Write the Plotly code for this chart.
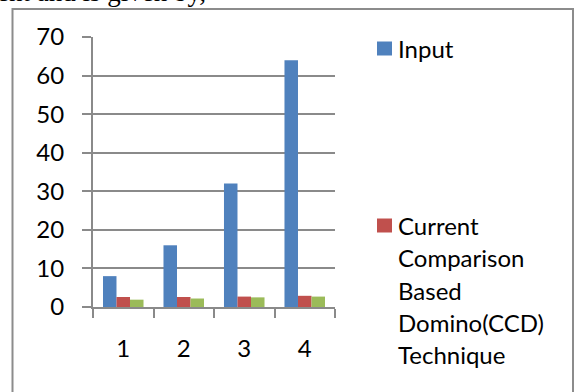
import plotly.graph_objects as go

# Chart data
categories = [1, 2, 3, 4]
tick_labels = ["1", "2", "3", "4"]
input_values = [8, 16, 32, 64]
ccd_values = [2.6, 2.6, 2.7, 2.9]
third_values = [1.9, 2.2, 2.5, 2.7]

series_names = [
    "Input",
    "Current<br>Comparison<br>Based<br>Domino(CCD)<br>Technique",
    "Series 3",
]
series_colors = ["#4F81BD", "#C0504D", "#9BBB59"]

W, H = 574, 392
ML, MR, MT, MB = 93, 239, 37, 85
PW, PH = W - ML - MR, H - MT - MB


def xp(px):
    return (px - ML) / PW


def yp(py):
    return (H - MB - py) / PH


FONT = "Lato"
GRID = "#8a8a8a"

fig = go.Figure()
for vals, name, color in zip(
    [input_values, ccd_values, third_values], series_names, series_colors
):
    fig.add_trace(
        go.Bar(
            x=categories,
            y=vals,
            name=name,
            marker=dict(color=color, line=dict(width=0)),
            showlegend=False,
        )
    )

shapes = [
    # outer chart frame
    dict(
        type="rect",
        xref="paper",
        yref="paper",
        x0=xp(12.5),
        x1=xp(573),
        y0=yp(420),
        y1=yp(9),
        line=dict(color="#8c8c8c", width=2),
        fillcolor="rgba(0,0,0,0)",
        layer="below",
    )
]
annotations = [
    dict(
        text="ent and is given by,",
        xref="paper",
        yref="paper",
        x=xp(-5),
        y=yp(9),
        xanchor="left",
        yanchor="bottom",
        showarrow=False,
        font=dict(family="Liberation Serif", size=27, color="black"),
    )
]

# Legend entries: swatch plus label lines, spread down the right side
legend_tops = [48.5, 225.5]
line_step = 32.3
for name, color, yc in zip(series_names[:2], series_colors[:2], legend_tops):
    shapes.append(
        dict(
            type="rect",
            xref="paper",
            yref="paper",
            x0=xp(377),
            x1=xp(392),
            y0=yp(yc + 7),
            y1=yp(yc - 7),
            line=dict(width=0),
            fillcolor=color,
        )
    )
    for i, line in enumerate(name.split("<br>")):
        annotations.append(
            dict(
                text=line,
                xref="paper",
                yref="paper",
                x=xp(396),
                y=yp(yc + i * line_step),
                xanchor="left",
                yanchor="middle",
                showarrow=False,
                font=dict(family=FONT, size=24, color="black"),
            )
        )

fig.update_layout(
    width=W,
    height=H,
    margin=dict(l=ML, r=MR, t=MT, b=MB, pad=0),
    paper_bgcolor="white",
    plot_bgcolor="white",
    barmode="group",
    bargap=0.33,
    bargroupgap=0,
    showlegend=False,
    font=dict(family=FONT, size=24, color="black"),
    xaxis=dict(
        range=[0.5, 4.5],
        tickvals=categories,
        ticktext=tick_labels,
        ticks="",
        ticklabelstandoff=19,
        showgrid=False,
        showline=True,
        linecolor=GRID,
        linewidth=2,
        zeroline=False,
        tickfont=dict(family=FONT, size=24, color="black"),
        minor=dict(
            tickvals=[0.5, 1.5, 2.5, 3.5, 4.5],
            ticks="outside",
            ticklen=9,
            tickwidth=2,
            tickcolor=GRID,
            showgrid=False,
        ),
    ),
    yaxis=dict(
        range=[0, 70],
        dtick=10,
        ticks="outside",
        ticklen=9,
        tickwidth=2,
        tickcolor=GRID,
        ticklabelstandoff=13,
        showgrid=True,
        gridcolor=GRID,
        gridwidth=1.5,
        showline=True,
        linecolor=GRID,
        linewidth=2,
        zeroline=False,
        tickfont=dict(family=FONT, size=24, color="black"),
    ),
    shapes=shapes,
    annotations=annotations,
)

fig.write_html("out.html")
